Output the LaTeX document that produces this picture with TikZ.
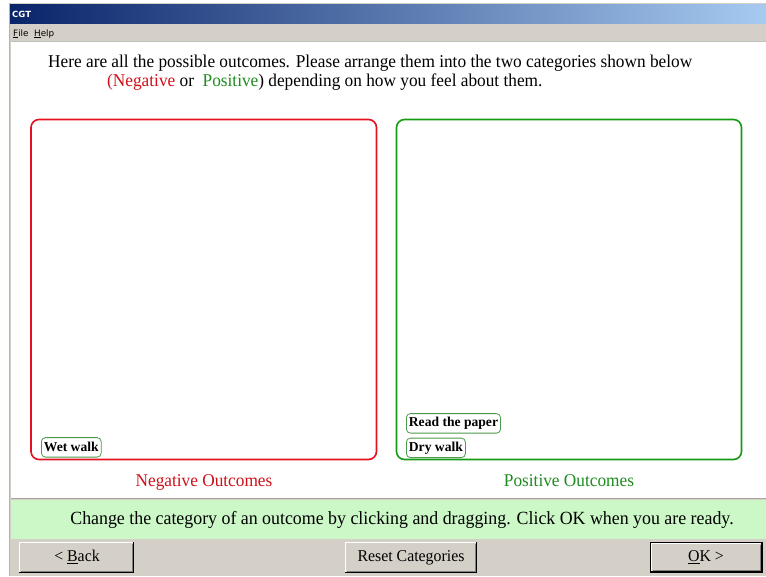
\documentclass[tikz,border=0pt]{standalone}
\usepackage{fontspec}
\setmainfont{Liberation Serif}
\newfontfamily\narrowserif[FakeStretch=0.96]{Liberation Serif}
\newfontfamily\uifont{DejaVu Sans}
\usetikzlibrary{positioning}

\definecolor{wingray}{HTML}{D4D0C8}
\definecolor{winshadow}{HTML}{808080}
\definecolor{titledark}{HTML}{0A246A}
\definecolor{titlelight}{HTML}{A6CAF0}
\definecolor{negred}{HTML}{E3101E}
\definecolor{negtext}{HTML}{D0101A}
\definecolor{posgreen}{HTML}{159A15}
\definecolor{postext}{HTML}{1E8C1E}
\definecolor{chipedge}{HTML}{4E9A4E}
\definecolor{hintband}{HTML}{CCF8C8}

\tikzset{
  category/.style={line width=1.6pt, rounded corners=8pt},
  chip/.style={draw=chipedge, line width=0.8pt, fill=white, rounded corners=4pt,
    font=\fontsize{13.6}{13.6}\selectfont\bfseries, inner xsep=2.5pt, inner ysep=0pt,
    minimum height=19.5pt, anchor=south west},
  bodytext/.style={font=\narrowserif\fontsize{18}{18}\selectfont, inner sep=0pt},
  hinttext/.style={font=\narrowserif\fontsize{18.6}{18.6}\selectfont, inner sep=0pt},
  btnlabel/.style={font=\narrowserif\fontsize{16.5}{16.5}\selectfont, inner sep=0pt},
  menutext/.style={font=\uifont\fontsize{8.8}{8.8}\selectfont, inner sep=0pt, anchor=base west},
}

% raised Windows-style push button: light top/left edges, dark bottom/right edges
\newcommand{\winbutton}[4]{% x1,y1,x2,y2
  \fill[wingray] (#1,#2) rectangle (#3,#4);
  \draw[white, line width=1pt] (#1+0.5,#4-1) -- (#1+0.5,#2+0.5) -- (#3-1,#2+0.5);
  \draw[black, line width=1pt] (#1,#4-0.5) -- (#3-0.5,#4-0.5) -- (#3-0.5,#2);
  \draw[winshadow, line width=1pt] (#1+1.5,#4-1.5) -- (#3-1.5,#4-1.5) -- (#3-1.5,#2+1.5);
}

\begin{document}
\begin{tikzpicture}[x=1pt,y=-1pt]
\useasboundingbox (0,0) rectangle (766,576);
\fill[white] (0,0) rectangle (766,576);

% window frame
\fill[wingray] (9,3) rectangle (766,576);
\draw[winshadow!60, line width=0.8pt] (9.5,3) -- (9.5,576);

% title bar
\shade[left color=titledark, right color=titlelight] (10,4) rectangle (766,23);
\node[font=\uifont\fontsize{8.5}{8.5}\selectfont\bfseries, text=white, inner sep=0pt, anchor=base west]
  (title) at (12,17) {CGT};

% menu bar
\node[menutext] (menufile) at (13,36) {\underline{F}ile};
\node[menutext] (menuhelp) at (34,36) {\underline{H}elp};

% client area
\fill[white] (11,42) rectangle (766,498);
\draw[winshadow!50, line width=0.8pt] (11,41.5) -- (766,41.5);

% instructions
\node[bodytext, anchor=base west] (instr1) at (48,67)
  {Here are all the possible outcomes. Please arrange them into the two categories shown below};
\node[bodytext, anchor=base west] (instr2) at (107,86)
  {\textcolor{negtext}{(Negative} or\ \ \textcolor{postext}{Positive}) depending on how you feel about them.};

% category areas
\draw[category, draw=negred] (31,119.5) rectangle (376.5,459.5);
\draw[category, draw=posgreen] (396.5,119.5) rectangle (741.5,459.5);

% outcome chips
\node[chip] (wetwalk) at (41,457.5) {Wet walk};
\node[chip] (readpaper) at (406,433.5) {Read the paper};
\node[chip] (drywalk) at (406,458) {Dry walk};

% category captions
\node[bodytext, text=negtext, anchor=base] (negcap) at (204,486) {Negative Outcomes};
\node[bodytext, text=postext, anchor=base] (poscap) at (569,486) {Positive Outcomes};

% hint band
\draw[wingray!80!black, line width=1pt] (11,498.5) -- (766,498.5);
\fill[hintband] (11,500) rectangle (766,539);
\node[hinttext, anchor=base] (hint) at (402,524.5)
  {Change the category of an outcome by clicking and dragging. Click OK when you are ready.};

% buttons
\winbutton{19}{542}{134}{573}
\node[btnlabel, anchor=base] (back) at (77,561.5) {<\ \underline{B}ack};
\winbutton{345}{542}{477}{573}
\node[btnlabel, anchor=base] (reset) at (411,561.5) {Reset Categories};
\draw[black, line width=1pt] (650.5,542.5) rectangle (762.5,572.5);
\winbutton{651}{543}{762}{572}
\node[btnlabel, anchor=base] (ok) at (706,561.5) {\underline{O}K >};
\end{tikzpicture}
\end{document}
